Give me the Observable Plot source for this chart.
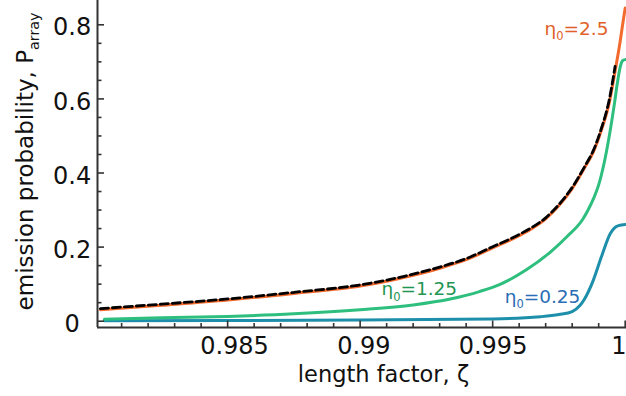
<!DOCTYPE html>
<html><head><meta charset="utf-8">
<script src="https://cdn.jsdelivr.net/npm/d3@7"></script>
<script src="https://cdn.jsdelivr.net/npm/@observablehq/plot@0.6"></script>
<style>html,body{margin:0;padding:0;background:#fff}svg{display:block}</style>
</head><body><div id="chart"></div>
<script>
// ---- data ----
const orangeX = [0.9802,0.9825,0.9850,0.9875,0.9900,0.9910,0.9920,0.9930,0.9940,0.9950,0.9960,0.9965,0.9970,0.9975,0.9980,0.9985,0.9988,0.9991,0.9994,0.99962,0.9998,0.99992,1.0];
const orangeY = [0.031,0.043,0.057,0.075,0.095,0.108,0.124,0.143,0.166,0.198,0.231,0.251,0.276,0.312,0.358,0.418,0.457,0.515,0.590,0.675,0.750,0.808,0.845];
const blackX = [0.9802,0.9825,0.9850,0.9875,0.9900,0.9910,0.9920,0.9930,0.9940,0.9950,0.9960,0.9965,0.9970,0.9975,0.9980,0.9985,0.9988,0.9991,0.9994,0.99962];
const blackY = [0.034,0.046,0.060,0.078,0.098,0.111,0.127,0.146,0.169,0.201,0.234,0.254,0.279,0.315,0.361,0.421,0.461,0.520,0.598,0.688];
const greenX = [0.98035,0.9825,0.9850,0.9875,0.9900,0.9920,0.9934,0.9945,0.9953,0.9963,0.9972,0.9978,0.9984,0.9986,0.9988,0.9990,0.9992,0.9994,0.9996,0.9997,0.9998,0.9999,1.0];
const greenY = [0.005,0.009,0.013,0.020,0.031,0.044,0.060,0.080,0.100,0.140,0.188,0.228,0.275,0.300,0.330,0.368,0.425,0.500,0.590,0.640,0.682,0.703,0.706];
const blueX = [0.98035,0.9850,0.9900,0.9950,0.9968,0.9975,0.9980,0.9983,0.99845,0.9988,0.9991,0.99944,0.9996,0.99975,1.0];
const blueY = [0.001,0.002,0.003,0.006,0.012,0.018,0.026,0.043,0.058,0.111,0.173,0.237,0.252,0.258,0.261];

const xTickValues = [0.985, 0.99, 0.995, 1];
const xTickLabels = ["0.985", "0.99", "0.995", "1"];
const xMinorTicks = [0.981,0.982,0.983,0.984,0.986,0.987,0.988,0.989,0.991,0.992,0.993,0.994,0.996,0.997,0.998,0.999];
const yTickValues = [0, 0.2, 0.4, 0.6, 0.8];
const yTickLabels = ["0", "0.2", "0.4", "0.6", "0.8"];
const yMinorTicks = [0.05,0.1,0.15,0.25,0.3,0.35,0.45,0.5,0.55,0.65,0.7,0.75];

const xTitle = "length factor, ζ";
const yTitle = "emission probability, P_{array}";
const seriesNames = ["η_{0}=2.5", "η_{0}=1.25", "η_{0}=0.25"];
const labelX = [0.99937, 0.99366, 0.99831];
const labelY = [0.772, 0.0695, 0.0487];

// ---- styles / layout ----
const lineColors = ["#F26A2D", "#2EBF7F", "#1E8FAA"];
const textColors = ["#E0622A", "#1F9652", "#2A6DB5"];
const xTickLabelDx = [6.9, 3.7, 0.4, -6.3];
const W = 626, H = 396, mL = 97, mR = 0, mT = 0, mB = 69;
const plotW = W - mL - mR, plotH = H - mT - mB;
const xDomain = [0.98009, 1.00005];
const yDomain = [-0.0170, 0.8656];
const axisColor = "#333";
const FONT = "'DejaVu Sans', sans-serif";

const toRows = (xs, ys) => xs.map((x, i) => ({x, y: ys[i]}));
const orange = toRows(orangeX, orangeY);
const black = toRows(blackX, blackY);
const green = toRows(greenX, greenY);
const blue = toRows(blueX, blueY);
const labels = seriesNames.map((t, i) => ({t, x: labelX[i], y: labelY[i], c: textColors[i]}));
const yTickRows = yTickValues.map((v, i) => ({v, t: yTickLabels[i]}));

const chart = Plot.plot({
  width: W, height: H,
  marginLeft: mL, marginRight: mR, marginTop: mT, marginBottom: mB,
  style: {fontFamily: FONT, background: "#fff", color: "#111"},
  x: {domain: xDomain, axis: null},
  y: {domain: yDomain, axis: null},
  marks: [
    Plot.line(blue, {x: "x", y: "y", stroke: lineColors[2], strokeWidth: 3, curve: "monotone-x"}),
    Plot.line(green, {x: "x", y: "y", stroke: lineColors[1], strokeWidth: 3, curve: "monotone-x"}),
    Plot.line(orange, {x: "x", y: "y", stroke: lineColors[0], strokeWidth: 3, curve: "monotone-x"}),
    Plot.line(black, {x: "x", y: "y", stroke: "#000", strokeWidth: 2.8, strokeDasharray: "8,4", curve: "monotone-x"}),
    // axis lines
    Plot.ruleX([xDomain[0]], {stroke: axisColor, strokeWidth: 2}),
    Plot.ruleY([yDomain[0]], {stroke: axisColor, strokeWidth: 2}),
    // inward ticks
    Plot.tickX(xTickValues, {x: d => d, insetTop: plotH - 6.5, stroke: axisColor, strokeWidth: 1.6}),
    Plot.tickX(xMinorTicks, {x: d => d, insetTop: plotH - 4, stroke: axisColor, strokeWidth: 1.6}),
    Plot.tickY(yTickValues, {y: d => d, insetRight: plotW - 7, stroke: axisColor, strokeWidth: 1.6}),
    Plot.tickY(yMinorTicks, {y: d => d, insetRight: plotW - 4.5, stroke: axisColor, strokeWidth: 1.6}),
    // x tick labels
    ...xTickValues.map((v, i) => Plot.text([xTickLabels[i]], {x: [v], frameAnchor: "bottom", lineAnchor: "bottom", textAnchor: "middle", dx: xTickLabelDx[i], dy: 26.5, fontSize: 24, fill: "#111"})),
    // y tick labels
    Plot.text(yTickRows, {y: "v", text: "t", frameAnchor: "left", textAnchor: "middle", lineAnchor: "middle", dx: -25.4, dy: 3, fontSize: 24, fill: "#111"}),
    // axis titles
    Plot.text([xTitle], {frameAnchor: "bottom", textAnchor: "middle", lineAnchor: "bottom", dx: 21.5, dy: 54.5, fontSize: 22.5, fill: "#111"}),
    Plot.text([yTitle], {frameAnchor: "left", textAnchor: "middle", lineAnchor: "bottom", rotate: -90, dx: -65, dy: -2.5, fontSize: 23, fill: "#111"}),
    // series labels
    Plot.text(labels, {x: "x", y: "y", text: "t", fill: "c", textAnchor: "end", lineAnchor: "bottom", fontSize: 18.5})
  ]
});
document.getElementById("chart").appendChild(chart);

// subscripts: turn "a_{b}c" into tspans
const svgNS = "http://www.w3.org/2000/svg";
chart.querySelectorAll("text, tspan").forEach(el => {
  if (el.children.length) return;
  const s = el.textContent;
  if (!s.includes("_{")) return;
  const fs = parseFloat(getComputedStyle(el).fontSize) || 20;
  const shift = 0.28 * fs;
  el.textContent = "";
  const re = /_\{([^}]*)\}/g;
  let last = 0, m, pendingUp = false;
  const add = (txt, sub) => {
    if (!txt) return;
    const t = document.createElementNS(svgNS, "tspan");
    t.textContent = txt;
    if (sub) { t.setAttribute("dy", shift); t.setAttribute("font-size", (0.62 * fs) + "px"); pendingUp = true; }
    else if (pendingUp) { t.setAttribute("dy", -shift); pendingUp = false; }
    el.appendChild(t);
  };
  while ((m = re.exec(s))) { add(s.slice(last, m.index), false); add(m[1], true); last = re.lastIndex; }
  add(s.slice(last), false);
});
</script>
</body></html>
